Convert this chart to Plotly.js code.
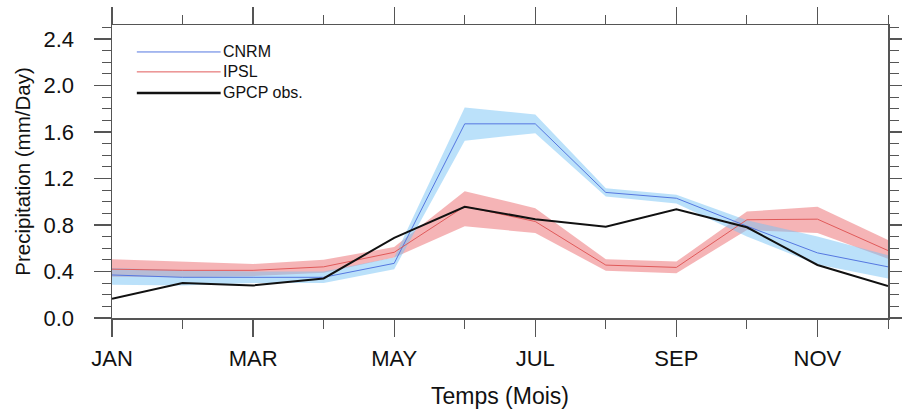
<!DOCTYPE html>
<html>
<head>
<meta charset="utf-8">
<script src="https://cdn.plot.ly/plotly-3.0.1.min.js"></script>
<style>html,body{margin:0;padding:0;background:#fff;}#chart{width:902px;height:414px;}</style>
</head>
<body>
<div id="chart"></div>
<script>
// Month index (0 = JAN ... 11 = DEC)
const months = [0, 1, 2, 3, 4, 5, 6, 7, 8, 9, 10, 11];
const tickVals = [0, 2, 4, 6, 8, 10];
const tickLabels = ["JAN", "MAR", "MAY", "JUL", "SEP", "NOV"];

// CNRM ensemble mean and spread
const cnrm    = [0.37, 0.35, 0.35, 0.35, 0.47, 1.67, 1.67, 1.08, 1.03, 0.79, 0.56, 0.44];
const cnrmUp  = [0.43, 0.41, 0.40, 0.40, 0.52, 1.81, 1.75, 1.115, 1.06, 0.84, 0.70, 0.54];
const cnrmLo  = [0.285, 0.28, 0.30, 0.30, 0.42, 1.525, 1.59, 1.045, 0.985, 0.70, 0.46, 0.34];

// IPSL ensemble mean and spread
const ipsl    = [0.42, 0.41, 0.41, 0.44, 0.565, 0.96, 0.83, 0.455, 0.435, 0.845, 0.85, 0.58];
const ipslUp  = [0.505, 0.485, 0.465, 0.50, 0.61, 1.09, 0.945, 0.505, 0.485, 0.915, 0.957, 0.67];
const ipslLo  = [0.355, 0.35, 0.36, 0.39, 0.52, 0.79, 0.73, 0.407, 0.385, 0.757, 0.73, 0.51];

// GPCP observations
const gpcp    = [0.165, 0.30, 0.28, 0.34, 0.69, 0.957, 0.85, 0.785, 0.935, 0.78, 0.456, 0.275];

const legendNames = ["CNRM", "IPSL", "GPCP obs."];

const FONT = "Liberation Sans, Arial, Helvetica, sans-serif";
const blueBand = "rgba(120,195,245,0.5)";
const redBand = "rgba(235,105,110,0.5)";
const blueLine = "#5577e0";
const redLine = "#e05a5a";

const traces = [
  {x: months, y: ipslLo, mode: "lines", line: {width: 0}, hoverinfo: "skip", showlegend: false},
  {x: months, y: ipslUp, mode: "lines", line: {width: 0}, fill: "tonexty", fillcolor: redBand, hoverinfo: "skip", showlegend: false},
  {x: months, y: cnrmLo, mode: "lines", line: {width: 0}, hoverinfo: "skip", showlegend: false},
  {x: months, y: cnrmUp, mode: "lines", line: {width: 0}, fill: "tonexty", fillcolor: blueBand, hoverinfo: "skip", showlegend: false},
  {x: months, y: cnrm, mode: "lines", name: legendNames[0], line: {color: blueLine, width: 1}, showlegend: false},
  {x: months, y: ipsl, mode: "lines", name: legendNames[1], line: {color: redLine, width: 1}, showlegend: false},
  {x: months, y: gpcp, mode: "lines", name: legendNames[2], line: {color: "#111", width: 2}, showlegend: false}
];

// manual legend (long line samples like the original)
const legY = [0.908, 0.84, 0.768];
const legColors = [blueLine, redLine, "#111"];
const legWidths = [1, 1, 2.5];
const shapes = [];
const annotations = [];
for (let i = 0; i < 3; i++) {
  shapes.push({type: "line", xref: "paper", yref: "paper", x0: 0.032, x1: 0.140, y0: legY[i], y1: legY[i],
    line: {color: legColors[i], width: legWidths[i]}});
  annotations.push({xref: "paper", yref: "paper", x: 0.140, y: legY[i], xanchor: "left", yanchor: "middle",
    text: legendNames[i], showarrow: false, font: {family: FONT, size: 16, color: "#111"}});
}

const axisCommon = {
  showline: true, linecolor: "#555", linewidth: 1.5, mirror: "allticks",
  ticks: "outside", tickcolor: "#555", tickwidth: 1.3, ticklen: 17,
  showgrid: false, zeroline: false,
  tickfont: {family: FONT, size: 22, color: "#111"}
};

const layout = {
  width: 902, height: 414,
  margin: {l: 112, r: 14, t: 25, b: 96},
  paper_bgcolor: "#fff", plot_bgcolor: "#fff",
  showlegend: false,
  xaxis: Object.assign({}, axisCommon, {
    range: [0, 11], tickmode: "array", tickvals: tickVals, ticktext: tickLabels,
    ticklabelstandoff: 3,
    minor: {tickmode: "array", tickvals: [1, 3, 5, 7, 9, 11], ticks: "outside", ticklen: 9, tickcolor: "#555", tickwidth: 1},
    title: {text: "Temps (Mois)", font: {family: FONT, size: 23, color: "#111"}, standoff: 18}
  }),
  yaxis: Object.assign({}, axisCommon, {
    range: [0, 2.52], tickmode: "linear", tick0: 0, dtick: 0.4, tickformat: ".1f",
    ticklabelstandoff: 15,
    minor: {dtick: 0.1, ticks: "outside", ticklen: 9, tickcolor: "#555", tickwidth: 1},
    title: {text: "Precipitation (mm/Day)", font: {family: FONT, size: 20.5, color: "#111"}, standoff: 7}
  }),
  shapes: shapes,
  annotations: annotations
};

Plotly.newPlot("chart", traces, layout, {displayModeBar: false, staticPlot: true});
</script>
</body>
</html>
